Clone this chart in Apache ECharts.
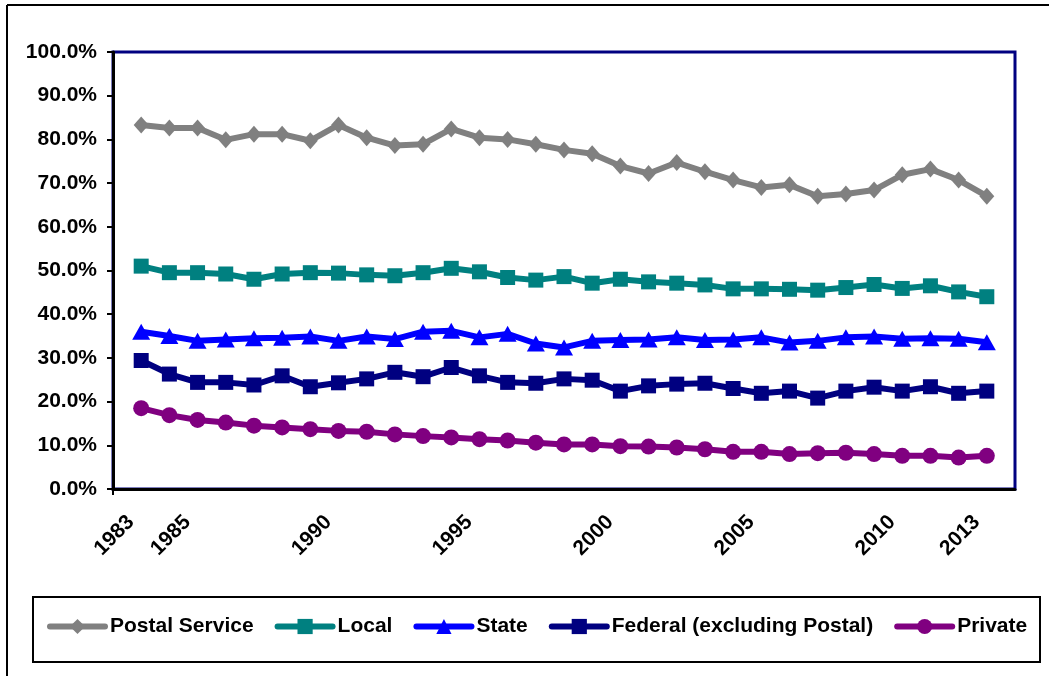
<!DOCTYPE html>
<html><head><meta charset="utf-8">
<script src="https://cdn.jsdelivr.net/npm/echarts@6/dist/echarts.min.js"></script>
<style>html,body{margin:0;padding:0;background:#fff}#c{width:1049px;height:676px}</style>
</head><body><div id="c"></div>
<script>
const years = ['1983','1984','1985','1986','1987','1988','1989','1990','1991','1992','1993','1994','1995','1996','1997','1998','1999','2000','2001','2002','2003','2004','2005','2006','2007','2008','2009','2010','2011','2012','2013'];
const tickLabels = ['1983','1985','1990','1995','2000','2005','2010','2013'];
const postal  = [83.3,82.6,82.6,79.9,81.2,81.2,79.7,83.3,80.4,78.6,78.9,82.4,80.4,80.0,78.9,77.6,76.7,73.9,72.2,74.7,72.6,70.7,69.0,69.6,67.0,67.5,68.4,71.9,73.2,70.7,67.0];
const local   = [51.0,49.5,49.5,49.2,48.0,49.2,49.5,49.4,49.0,48.8,49.5,50.5,49.7,48.4,47.8,48.6,47.1,48.0,47.4,47.1,46.7,45.8,45.8,45.7,45.5,46.1,46.8,45.9,46.5,45.1,44.0];
const state   = [36.0,35.0,33.9,34.2,34.5,34.6,34.9,33.9,34.9,34.3,36.0,36.2,34.7,35.5,33.3,32.4,33.9,34.1,34.2,34.7,34.1,34.2,34.7,33.5,33.9,34.7,34.9,34.4,34.5,34.4,33.6];
const federal = [29.4,26.3,24.4,24.4,23.8,25.9,23.4,24.3,25.2,26.7,25.7,27.8,25.9,24.4,24.2,25.2,24.9,22.4,23.6,24.0,24.2,23.0,21.9,22.4,20.8,22.4,23.3,22.4,23.4,21.9,22.4];
const privateS= [18.5,16.9,15.8,15.2,14.5,14.1,13.7,13.3,13.1,12.5,12.1,11.8,11.4,11.1,10.6,10.2,10.2,9.8,9.7,9.5,9.1,8.5,8.5,8.0,8.2,8.3,8.0,7.6,7.6,7.2,7.6];
const seriesNames = ['Postal Service','Local','State','Federal (excluding Postal)','Private'];

// axis slots: one empty slot before the first year and after the last
const slots = [''].concat(years).concat(['']);
const slotLabel = i => String(1983 + i);

const FONT = 'Liberation Sans, Arial, sans-serif';
const FS = 21;
function mk(name, data, color, symbol, size) {
  return {
    name, type: 'line', data: [null].concat(data), xAxisIndex: 0, yAxisIndex: 0,
    symbol, symbolSize: size, showSymbol: true,
    lineStyle: {color, width: 6}, itemStyle: {color},
    emphasis: {disabled: true}, z: 3
  };
}
const chart = echarts.init(document.getElementById('c'), null, {renderer: 'canvas'});
chart.setOption({
  animation: false,
  backgroundColor: '#fff',
  grid: [
    {left: 113, right: 34, top: 52, bottom: 187, show: true, borderColor: '#000080', borderWidth: 3, backgroundColor: 'transparent'},
    {left: 131, right: 16, top: 52, bottom: 187, show: false}
  ],
  xAxis: [{
    gridIndex: 0, type: 'category', data: slots, boundaryGap: false,
    axisLine: {lineStyle: {color: '#000', width: 3}},
    axisTick: {show: true, length: 6, inside: false, lineStyle: {color: '#000', width: 2},
      interval: (i) => i === 0},
    splitLine: {show: false},
    axisLabel: {show: false}
  }, {
    gridIndex: 1, type: 'category', data: slots, boundaryGap: false,
    axisLine: {show: false}, axisTick: {show: false}, splitLine: {show: false},
    axisLabel: {
      rotate: 45, margin: 30,
      fontFamily: FONT, fontSize: FS, fontWeight: 'bold', color: '#000',
      interval: (i) => tickLabels.indexOf(slotLabel(i)) >= 0,
      formatter: (v, i) => slotLabel(i)
    }
  }],
  yAxis: [{
    gridIndex: 0, type: 'value', min: 0, max: 100, interval: 10,
    axisLine: {show: true, lineStyle: {color: '#000', width: 3}},
    axisTick: {show: true, length: 6, lineStyle: {color: '#000', width: 2}},
    splitLine: {show: false},
    axisLabel: {margin: 16, fontFamily: FONT, fontSize: FS, fontWeight: 'bold', color: '#000',
      formatter: v => v.toFixed(1) + '%'}
  }, {
    gridIndex: 1, type: 'value', min: 0, max: 100, show: false
  }],
  legend: {
    left: 47, top: 616, padding: 0, itemWidth: 55, itemHeight: 19, itemGap: 21,
    lineStyle: {width: 6, cap: 'round'},
    textStyle: {fontFamily: FONT, fontSize: FS, fontWeight: 'bold', color: '#000'},
    data: seriesNames
  },
  series: [
    mk(seriesNames[0], postal, '#808080', 'diamond', [15, 17]),
    mk(seriesNames[1], local, '#008080', 'rect', 15),
    mk(seriesNames[2], state, '#0000FF', 'triangle', [18, 16]),
    mk(seriesNames[3], federal, '#000080', 'rect', 15),
    mk(seriesNames[4], privateS, '#800080', 'circle', 16)
  ],
  graphic: [
    {type: 'line', shape: {x1: 7, y1: 5, x2: 1049, y2: 5}, style: {stroke: '#000', lineWidth: 2}},
    {type: 'line', shape: {x1: 7, y1: 5, x2: 7, y2: 676}, style: {stroke: '#000', lineWidth: 2}},
    {type: 'rect', shape: {x: 33, y: 597, width: 1007, height: 65}, style: {fill: 'none', stroke: '#000', lineWidth: 2}}
  ]
});
</script></body></html>
